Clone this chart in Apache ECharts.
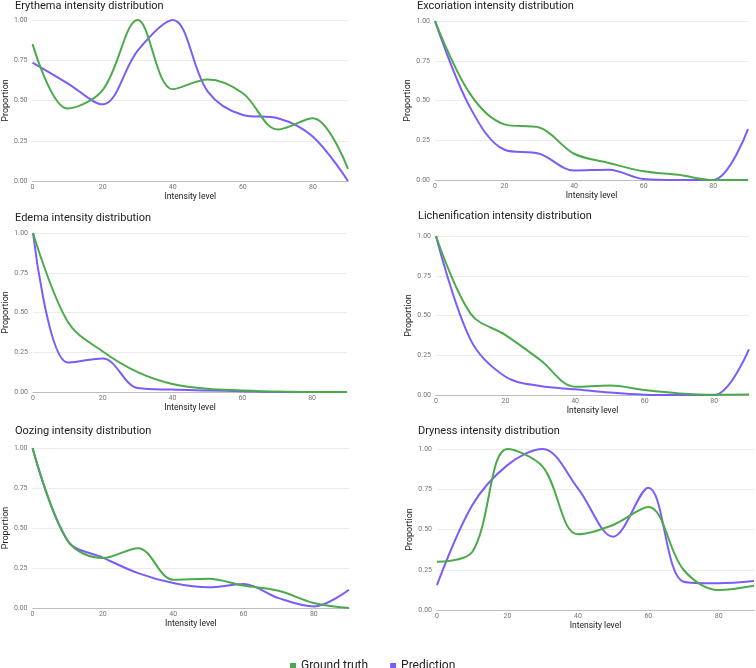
<!DOCTYPE html>
<html>
<head>
<meta charset="utf-8">
<script src="https://cdn.jsdelivr.net/npm/echarts@6/dist/echarts.min.js"></script>
<style>
html,body{margin:0;padding:0;background:#fff;}
#chart{width:756px;height:668px;}
</style>
</head>
<body>
<div id="chart"></div>
<script>
// ---- data ----
const intensityLevels = [0, 10, 20, 30, 40, 50, 60, 70, 80, 90];
const panelTitles = [
  'Erythema intensity distribution',
  'Excoriation intensity distribution',
  'Edema intensity distribution',
  'Lichenification intensity distribution',
  'Oozing intensity distribution',
  'Dryness intensity distribution'
];
const seriesNames = ['Ground truth', 'Prediction'];
const yTickLabels = ['0.00', '0.25', '0.50', '0.75', '1.00'];
const xTickLabels = ['0', '20', '40', '60', '80'];

const erythemaGT   = [0.85, 0.45, 0.565, 1.00, 0.57, 0.63, 0.545, 0.32, 0.39, 0.075];
const erythemaPred = [0.735, 0.607, 0.476, 0.81, 1.00, 0.555, 0.41, 0.39, 0.275, 0.00];
const excoriationGT   = [1.00, 0.545, 0.35, 0.33, 0.165, 0.107, 0.055, 0.033, 0.00, 0.00];
const excoriationPred = [1.00, 0.46, 0.19, 0.165, 0.06, 0.065, 0.006, 0.00, 0.00, 0.32];
const edemaGT   = [1.00, 0.44, 0.255, 0.125, 0.05, 0.02, 0.01, 0.003, 0.00, 0.00];
const edemaPred = [1.00, 0.185, 0.21, 0.025, 0.015, 0.01, 0.005, 0.00, 0.00, 0.00];
const lichenificationGT   = [1.00, 0.51, 0.377, 0.22, 0.052, 0.059, 0.031, 0.01, 0.002, 0.003];
const lichenificationPred = [1.00, 0.345, 0.115, 0.056, 0.036, 0.015, 0.002, 0.00, 0.00, 0.287];
const oozingGT   = [1.00, 0.42, 0.312, 0.374, 0.177, 0.183, 0.14, 0.108, 0.031, 0.00];
const oozingPred = [1.00, 0.42, 0.315, 0.218, 0.156, 0.129, 0.15, 0.062, 0.01, 0.114];
const drynessGT   = [0.30, 0.36, 1.00, 0.89, 0.47, 0.528, 0.64, 0.25, 0.124, 0.15];
const drynessPred = [0.155, 0.65, 0.90, 1.00, 0.756, 0.455, 0.76, 0.176, 0.166, 0.18];

const panelData = [
  [erythemaGT, erythemaPred],
  [excoriationGT, excoriationPred],
  [edemaGT, edemaPred],
  [lichenificationGT, lichenificationPred],
  [oozingGT, oozingPred],
  [drynessGT, drynessPred]
];

// ---- layout / style ----
const FONT = 'Roboto';
const colors = ['#4caa4c', '#7b5cfb'];
const gridBoxes = [
  {left: 32,  top: 20,  width: 316, height: 161},
  {left: 435, top: 21,  width: 313, height: 159},
  {left: 33,  top: 233, width: 314, height: 159},
  {left: 436, top: 236, width: 313, height: 159},
  {left: 32,  top: 448, width: 317, height: 160},
  {left: 437, top: 449, width: 317, height: 161}
];
const titlePos = [
  {left: 15, top: 1},
  {left: 417, top: 1},
  {left: 15, top: 213},
  {left: 418, top: 211},
  {left: 15, top: 426},
  {left: 418, top: 426}
];

const option = {
  animation: false,
  backgroundColor: '#fff',
  textStyle: {fontFamily: FONT},
  title: panelTitles.map((t, i) => ({
    text: t, left: titlePos[i].left, top: titlePos[i].top, padding: 0,
    textStyle: {fontFamily: FONT, fontSize: 11, fontWeight: 'normal', color: '#212121'}
  })),
  legend: {
    data: seriesNames,
    left: 285, top: 655,
    icon: 'rect', itemWidth: 6, itemHeight: 6, itemGap: 22,
    textStyle: {fontFamily: FONT, fontSize: 12, color: '#222'}
  },
  grid: gridBoxes.map(g => Object.assign({containLabel: false}, g)),
  xAxis: gridBoxes.map((g, i) => ({
    type: 'value', gridIndex: i, min: 0, max: 90, interval: 20,
    name: 'Intensity level', nameLocation: 'middle', nameGap: 10,
    nameTextStyle: {fontFamily: FONT, fontSize: 8.5, color: '#222'},
    axisLine: {show: true, lineStyle: {color: '#bdbdbd', width: 1}},
    axisTick: {show: false},
    splitLine: {show: false},
    axisLabel: {
      fontFamily: FONT, fontSize: 7, color: '#757575', margin: 3,
      showMaxLabel: false,
      formatter: v => (xTickLabels.indexOf(String(v)) >= 0 ? String(v) : '')
    }
  })),
  yAxis: gridBoxes.map((g, i) => ({
    type: 'value', gridIndex: i, min: 0, max: 1, interval: 0.25,
    name: 'Proportion', nameLocation: 'middle', nameGap: 18,
    nameTextStyle: {fontFamily: FONT, fontSize: 9, color: '#222'},
    axisLine: {show: false},
    axisTick: {show: false},
    splitLine: {show: true, lineStyle: {color: '#ebebeb', width: 1}},
    axisLabel: {
      fontFamily: FONT, fontSize: 7, color: '#757575', margin: 5,
      formatter: v => yTickLabels[Math.round(v * 4)]
    }
  })),
  series: []
};

panelData.forEach((pair, i) => {
  pair.forEach((vals, k) => {
    option.series.push({
      type: 'line', name: seriesNames[k],
      xAxisIndex: i, yAxisIndex: i,
      data: intensityLevels.map((x, j) => [x, vals[j]]),
      smooth: 0.35, symbol: 'none', clip: true,
      color: colors[k],
      lineStyle: {width: 2, color: colors[k]},
      z: k === 0 ? 3 : 2
    });
  });
});

const chart = echarts.init(document.getElementById('chart'), null, {renderer: 'canvas'});
chart.setOption(option);
</script>
</body>
</html>
